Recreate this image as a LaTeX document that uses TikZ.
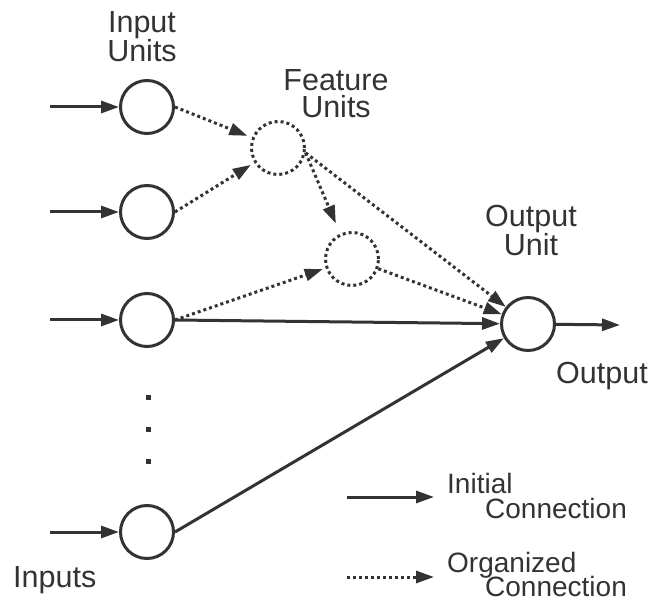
\documentclass[tikz,border=0pt]{standalone}
\usepackage{fontspec}
\setmainfont{Liberation Sans}
\usetikzlibrary{arrows.meta}
\definecolor{ink}{HTML}{333333}
\tikzset{
  unit/.style={circle, draw=ink, line width=3pt, minimum size=53pt, inner sep=0pt},
  featunit/.style={unit, dash pattern=on 3pt off 3pt},
  conn/.style={draw=ink, line width=3pt, -{Triangle[length=18pt,width=12pt]}, ink},
  orgconn/.style={conn, dash pattern=on 3pt off 3pt},
  lbl/.style={text=ink, font=\fontsize{30.5}{29}\selectfont, inner sep=0pt, anchor=base},
  leg/.style={text=ink, font=\fontsize{28}{26}\selectfont, inner sep=0pt, anchor=base west},
  dotmark/.style={rectangle, fill=ink, minimum size=5pt, inner sep=0pt}
}
\begin{document}
\begin{tikzpicture}[x=1pt,y=-1pt]
\useasboundingbox (0,0) rectangle (653,601);
% input units
\node[unit] (in1) at (147,107) {};
\node[unit] (in2) at (147,212) {};
\node[unit] (in3) at (147,320) {};
\node[unit] (in5) at (147,532) {};
\coordinate (s1) at (50,107);
\coordinate (s2) at (50,212);
\coordinate (s3) at (50,320);
\coordinate (s5) at (50,532);
% feature units
\node[featunit] (f1) at (278,148) {};
\node[featunit] (f2) at (352,259) {};
% output unit
\node[unit] (out) at (528,324) {};
\coordinate (o) at (620,325);
% ellipsis dots
\node[dotmark] (d1) at (148,397) {};
\node[dotmark] (d2) at (148,429) {};
\node[dotmark] (d3) at (148,461) {};
% input arrows
\draw[conn] (s1) -- (in1);
\draw[conn] (s2) -- (in2);
\draw[conn] (s3) -- (in3);
\draw[conn] (s5) -- (in5);
% organized connections
\draw[orgconn, shorten >=5pt] (in1.east) -- (f1);
\draw[orgconn, shorten >=4pt] (in2.east) -- (f1);
\draw[orgconn, shorten >=3pt] (in3.east) -- (f2);
\draw[orgconn, shorten >=11pt] (f1.-10) -- (f2.115);
\draw[orgconn] (f1.-10) -- (out);
\draw[orgconn] (f2) -- (out);
% initial connections
\draw[conn] (in3.east) -- (out);
\draw[conn] (in5.east) -- (out);
\draw[conn] (out) -- (o);
% labels
\node[lbl] (t1) at (142,33) {Input};
\node[lbl] (t2) at (142,62) {Units};
\node[lbl] (t3) at (336,91) {Feature};
\node[lbl] (t4) at (336,118) {Units};
\node[lbl] (t5) at (531,227) {Output};
\node[lbl] (t6) at (531,256) {Unit};
\node[lbl] (t7) at (602,383) {Output};
\node[lbl, anchor=base west] (t8) at (13,587) {Inputs};
% legend
\coordinate (la) at (347,497);
\coordinate (lb) at (434,497);
\coordinate (lc) at (347,577);
\coordinate (ld) at (434,577);
\draw[conn] (la) -- (lb);
\draw[orgconn] (lc) -- (ld);
\node[leg] (g1) at (447,493) {Initial};
\node[leg] (g2) at (485,518) {Connection};
\node[leg] (g3) at (447,572) {Organized};
\node[leg] (g4) at (485,596) {Connection};
\end{tikzpicture}
\end{document}
